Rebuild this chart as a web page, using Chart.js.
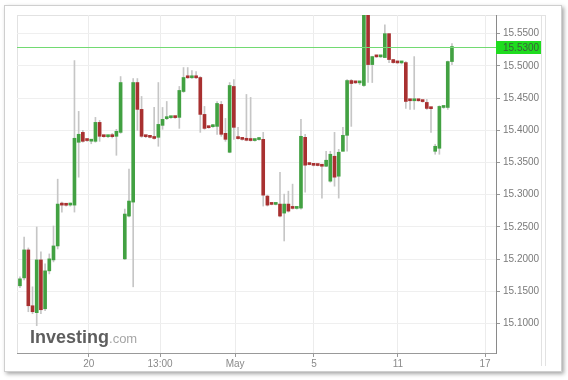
<!DOCTYPE html>
<html>
<head>
<meta charset="utf-8">
<script src="https://cdn.jsdelivr.net/npm/chart.js@4.4.1/dist/chart.umd.min.js"></script>
<style>
  html, body { margin: 0; padding: 0; background: #fff; }
  #wrap { position: relative; width: 568px; height: 380px; }
</style>
</head>
<body>
<div id="wrap"><canvas id="candles" width="568" height="380"></canvas></div>
<script>
// OHLC, one candle per slot
const opens = [
  15.1584, 15.1707, 15.2141, 15.1274, 15.1166, 15.1986, 15.1227, 15.1816, 15.1986, 15.2203,
  15.2853, 15.2840, 15.2838, 15.2837, 15.3813, 15.3967, 15.3846, 15.3830, 15.3828, 15.4122,
  15.3906, 15.3900, 15.3906, 15.3906, 15.3967, 15.2002, 15.2667, 15.2884, 15.4741, 15.4324,
  15.3906, 15.3895, 15.3880, 15.3890, 15.4076, 15.4180, 15.4195, 15.4200, 15.4200, 15.4602,
  15.4819, 15.4815, 15.4820, 15.4819, 15.4246, 15.4045, 15.4055, 15.4060, 15.4401, 15.3952,
  15.3658, 15.4680, 15.3875, 15.3862, 15.3848, 15.3844, 15.3840, 15.3855, 15.3859, 15.2977,
  15.2853, 15.2848, 15.2853, 15.2713, 15.2853, 15.2791, 15.2786, 15.2791, 15.3890, 15.3472,
  15.3460, 15.3457, 15.3445, 15.3441, 15.3209, 15.3596, 15.3286, 15.3673, 15.3921, 15.4772,
  15.4741, 15.4736, 15.4695, 15.5950, 15.5020, 15.5144, 15.5140, 15.5129, 15.5500, 15.5098,
  15.5051, 15.5046, 15.5051, 15.4463, 15.4458, 15.4463, 15.4450, 15.4432, 15.4339, 15.3673,
  15.3720, 15.4354, 15.4354, 15.5067
];
const highs = [
  15.1723, 15.2342, 15.2172, 15.1568, 15.2497, 15.2110, 15.1924, 15.2079, 15.2513, 15.3240,
  15.2884, 15.2860, 15.2870, 15.5082, 15.4293, 15.3998, 15.3860, 15.3850, 15.4200, 15.4153,
  15.3920, 15.3921, 15.3950, 15.4014, 15.4834, 15.2776, 15.3395, 15.4803, 15.4803, 15.4525,
  15.3921, 15.3910, 15.4354, 15.4741, 15.4354, 15.4447, 15.4215, 15.4215, 15.4680, 15.4974,
  15.4974, 15.4927, 15.4911, 15.4834, 15.4370, 15.4060, 15.4091, 15.4447, 15.4447, 15.4184,
  15.4741, 15.4788, 15.4045, 15.3875, 15.4556, 15.4510, 15.3860, 15.3890, 15.3967, 15.2992,
  15.2865, 15.2870, 15.3348, 15.3008, 15.3054, 15.3163, 15.2800, 15.4169, 15.3937, 15.3480,
  15.3470, 15.3470, 15.3455, 15.3673, 15.3673, 15.3967, 15.3704, 15.4045, 15.4788, 15.4788,
  15.4755, 15.4755, 15.6000, 15.6000, 15.5150, 15.5155, 15.5155, 15.5639, 15.5500, 15.5098,
  15.5060, 15.5060, 15.5067, 15.4470, 15.5144, 15.4470, 15.4460, 15.4479, 15.4345, 15.3782,
  15.4380, 15.4370, 15.5075, 15.5345
];
const lows = [
  15.1553, 15.1677, 15.1181, 15.1150, 15.0964, 15.1150, 15.1196, 15.1769, 15.1955, 15.2156,
  15.2729, 15.2820, 15.2820, 15.2729, 15.3271, 15.3813, 15.3825, 15.3790, 15.3813, 15.3828,
  15.3890, 15.3885, 15.3880, 15.3611, 15.3952, 15.1990, 15.2652, 15.1568, 15.3998, 15.3890,
  15.3885, 15.3880, 15.3860, 15.3751, 15.4014, 15.4165, 15.4185, 15.4185, 15.4029, 15.4587,
  15.4805, 15.4805, 15.4800, 15.3967, 15.4014, 15.4030, 15.4045, 15.3937, 15.3906, 15.3828,
  15.3650, 15.3859, 15.3860, 15.3845, 15.3835, 15.3830, 15.3830, 15.3845, 15.2822, 15.2822,
  15.2840, 15.2840, 15.2652, 15.2280, 15.2729, 15.2775, 15.2775, 15.2775, 15.3039, 15.3460,
  15.3445, 15.3445, 15.2946, 15.3436, 15.3193, 15.3131, 15.2946, 15.3673, 15.3673, 15.4060,
  15.4725, 15.4710, 15.4680, 15.4741, 15.4741, 15.5130, 15.5130, 15.5129, 15.5051, 15.5040,
  15.5040, 15.5030, 15.4339, 15.4324, 15.4324, 15.4450, 15.4435, 15.4324, 15.3967, 15.3627,
  15.3627, 15.4340, 15.4324, 15.5020
];
const closes = [
  15.1692, 15.2141, 15.1274, 15.1181, 15.1986, 15.1212, 15.1816, 15.2002, 15.2203, 15.2853,
  15.2837, 15.2835, 15.2845, 15.3875, 15.3937, 15.3828, 15.3840, 15.3836, 15.4122, 15.3906,
  15.3900, 15.3906, 15.3900, 15.3983, 15.4741, 15.2698, 15.2900, 15.4741, 15.4324, 15.3906,
  15.3900, 15.3890, 15.3872, 15.4091, 15.4169, 15.4186, 15.4200, 15.4196, 15.4618, 15.4819,
  15.4815, 15.4820, 15.4815, 15.4246, 15.4029, 15.4040, 15.4060, 15.4416, 15.3937, 15.3859,
  15.4695, 15.4045, 15.3870, 15.3858, 15.3844, 15.3840, 15.3844, 15.3860, 15.2992, 15.2837,
  15.2848, 15.2853, 15.2667, 15.2853, 15.2744, 15.2786, 15.2791, 15.3906, 15.3457, 15.3467,
  15.3455, 15.3452, 15.3441, 15.3534, 15.3627, 15.3271, 15.3658, 15.3921, 15.4772, 15.4726,
  15.4736, 15.4741, 15.5950, 15.5020, 15.5144, 15.5140, 15.5144, 15.5500, 15.5098, 15.5051,
  15.5046, 15.5051, 15.4447, 15.4458, 15.4463, 15.4458, 15.4445, 15.4339, 15.4335, 15.3751,
  15.4370, 15.4360, 15.5067, 15.5300
];

// x axis: slot positions of the date labels
const tickPos = [16.4, 33.4, 51.3, 70.1, 90.1, 110.9];
const tickLabels = ['20', '13:00', 'May', '5', '11', '17'];
// y axis
const yTicks = [15.10, 15.15, 15.20, 15.25, 15.30, 15.35, 15.40, 15.45, 15.50, 15.55];
const lastPrice = 15.53;

const idx = closes.map((_, i) => i);
const bodyColors = idx.map(i => closes[i] >= opens[i] ? '#42a142' : '#a83030');

// frame, watermark, price line
const decor = {
  id: 'decor',
  beforeDraw(chart) {
    const c = chart.ctx;
    c.save();
    c.fillStyle = '#fff';
    c.fillRect(0, 0, chart.width, chart.height);
    c.shadowColor = 'rgba(0,0,0,0.35)';
    c.shadowBlur = 4;
    c.shadowOffsetX = 2;
    c.shadowOffsetY = 2;
    c.fillRect(4, 5, 558, 367);
    c.shadowColor = 'transparent';
    c.strokeStyle = '#cfcfcf';
    c.lineWidth = 1;
    c.strokeRect(4.5, 5.5, 557, 366);
    c.strokeStyle = '#e2e2e2';
    c.beginPath();
    c.moveTo(17, 15.5); c.lineTo(545, 15.5);
    c.moveTo(17.5, 15); c.lineTo(17.5, 353);
    c.moveTo(541.5, 15); c.lineTo(541.5, 366);
    c.moveTo(545.5, 15); c.lineTo(545.5, 366);
    c.stroke();
    c.restore();
  },
  beforeDatasetsDraw(chart) {
    const c = chart.ctx;
    c.save();
    c.textBaseline = 'alphabetic';
    c.font = 'bold 18px "Liberation Sans", Arial, sans-serif';
    c.fillStyle = '#5e5e5e';
    c.fillText('Investing', 30, 343);
    const w = c.measureText('Investing').width;
    c.font = '13px "Liberation Sans", Arial, sans-serif';
    c.fillStyle = '#a6a6a6';
    c.fillText('.com', 30 + w, 343);
    c.restore();
  },
  afterDatasetsDraw(chart) {
    const c = chart.ctx;
    const a = chart.chartArea;
    const y = Math.round(chart.scales.y.getPixelForValue(lastPrice));
    c.save();
    c.fillStyle = '#72da72';
    c.fillRect(a.left, y, a.right - a.left, 1);
    c.restore();
  },
  afterDraw(chart) {
    const c = chart.ctx;
    const a = chart.chartArea;
    const y = Math.round(chart.scales.y.getPixelForValue(lastPrice));
    c.save();
    c.fillStyle = '#1fdc1f';
    c.fillRect(a.right, y - 6, 45, 13);
    c.fillStyle = '#3b5e3b';
    c.font = '10px "Liberation Sans", Arial, sans-serif';
    c.textBaseline = 'middle';
    c.fillText(lastPrice.toFixed(4), a.right + 7, y + 1);
    c.restore();
  }
};

new Chart(document.getElementById('candles'), {
  type: 'bar',
  data: {
    datasets: [
      {
        data: idx.map(i => ({ x: i, y: [opens[i], closes[i]] })),
        backgroundColor: bodyColors,
        barThickness: 3,
        minBarLength: 2,
        grouped: false
      },
      {
        data: idx.map(i => ({ x: i, y: [lows[i], highs[i]] })),
        backgroundColor: '#c6c6c6',
        barThickness: 1,
        grouped: false
      }
    ]
  },
  options: {
    responsive: false,
    animation: false,
    layout: { padding: { left: 17, top: 15, right: 0, bottom: 0 } },
    plugins: { legend: { display: false }, tooltip: { enabled: false } },
    scales: {
      x: {
        type: 'linear',
        min: -0.7,
        max: 113.5,
        offset: false,
        afterBuildTicks: s => { s.ticks = tickPos.map(v => ({ value: v })); },
        afterFit: s => { s.height = 27; },
        grid: { offset: false, color: '#ececec', tickColor: '#999', tickLength: 4 },
        border: { color: '#999' },
        ticks: {
          autoSkip: false,
          maxRotation: 0,
          padding: 1,
          color: '#8a8a8a',
          font: { size: 10, family: '"Liberation Sans", Arial, sans-serif' },
          callback: (v, i) => tickLabels[i]
        }
      },
      y: {
        position: 'right',
        min: 15.054,
        max: 15.579,
        afterBuildTicks: s => { s.ticks = yTicks.map(v => ({ value: v })); },
        afterFit: s => { s.width = 72; },
        grid: { color: '#efefef', tickColor: '#999', tickLength: 4 },
        border: { color: '#8a8a8a' },
        ticks: {
          padding: 3,
          color: '#7a7a7a',
          font: { size: 10, family: '"Liberation Sans", Arial, sans-serif' },
          callback: v => v.toFixed(4)
        }
      }
    }
  },
  plugins: [decor]
});
</script>
</body>
</html>
